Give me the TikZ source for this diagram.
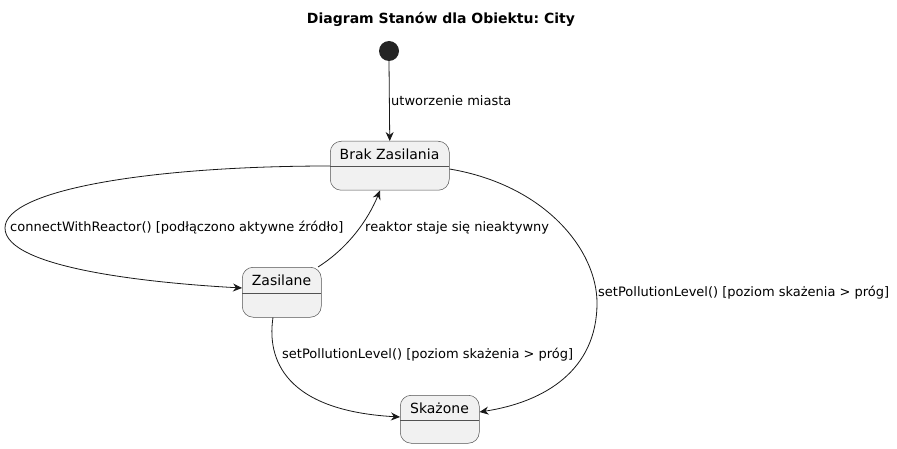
\documentclass[tikz,border=0pt]{standalone}
\usepackage{fontspec}
\setmainfont{DejaVu Sans}
\usetikzlibrary{arrows.meta}
\definecolor{stfill}{HTML}{F1F1F1}
\definecolor{stline}{HTML}{181818}
\frenchspacing
\begin{document}
\begin{tikzpicture}[x=1pt,y=-1pt,
  statebox/.style={draw=stline!75, line width=0.5pt, fill=stfill, rounded corners=11pt, inner sep=0pt, anchor=north west},
  sname/.style={font=\fontsize{14}{16}\selectfont, inner sep=0pt},
  lbl/.style={font=\fontsize{13}{15}\selectfont, inner sep=0pt, anchor=west},
  conn/.style={draw=stline, line width=0.8pt, -{Stealth[length=9pt,width=8pt,inset=3pt]}}]
\useasboundingbox (0,0) rectangle (897,449);
% title
\node[font=\bfseries\fontsize{14}{16}\selectfont, inner sep=0pt] (title) at (441,19) {Diagram Stanów dla Obiektu: City};
% initial
\node[circle, fill=stline!95, minimum size=20pt, inner sep=0pt] (init) at (389,51) {};
% states
\node[statebox, minimum width=119pt, minimum height=49pt] (brak) at (330,141) {};
\draw[stline!75, line width=0.5pt] (330,166) -- (449,166);
\node[sname] (brakt) at (389.5,154) {Brak Zasilania};
\node[statebox, minimum width=79pt, minimum height=50pt] (zas) at (242,267) {};
\draw[stline!75, line width=0.5pt] (242,293) -- (321,293);
\node[sname] (zast) at (281.5,280) {Zasilane};
\node[statebox, minimum width=79pt, minimum height=48pt] (sk) at (400,395) {};
\draw[stline!75, line width=0.5pt] (400,420) -- (479,420);
\node[sname] (skt) at (439.5,408) {Skażone};
% connectors
\coordinate (c1) at (5,228);
\coordinate (c2) at (597,303);
\draw[conn] (init.south) -- (brak.north);
\node[lbl] (l1) at (391,101) {utworzenie miasta};
\draw[conn] (brak.west |- 0,166) .. controls (150,166) and (5,190) .. (c1) .. controls (5,268) and (150,283) .. (zas.west |- 0,288);
\node[lbl] (l2) at (10,228) {connectWithReactor() [podłączono aktywne źródło]};
\draw[conn] (318,267) .. controls (348,248) and (368,220) .. (brak.south -| 380,0);
\node[lbl] (l3) at (365,228) {reaktor staje się nieaktywny};
\draw[conn] (zas.south -| 273,0) .. controls (268,350) and (275,410) .. (sk.west |- 0,417);
\node[lbl] (l4) at (282,355) {setPollutionLevel() [poziom skażenia > próg]};
\draw[conn] (brak.east |- 0,169) .. controls (545,185) and (597,250) .. (c2) .. controls (597,370) and (545,402) .. (sk.east |- 0,412);
\node[lbl] (l5) at (598,293) {setPollutionLevel() [poziom skażenia > próg]};
\end{tikzpicture}
\end{document}
